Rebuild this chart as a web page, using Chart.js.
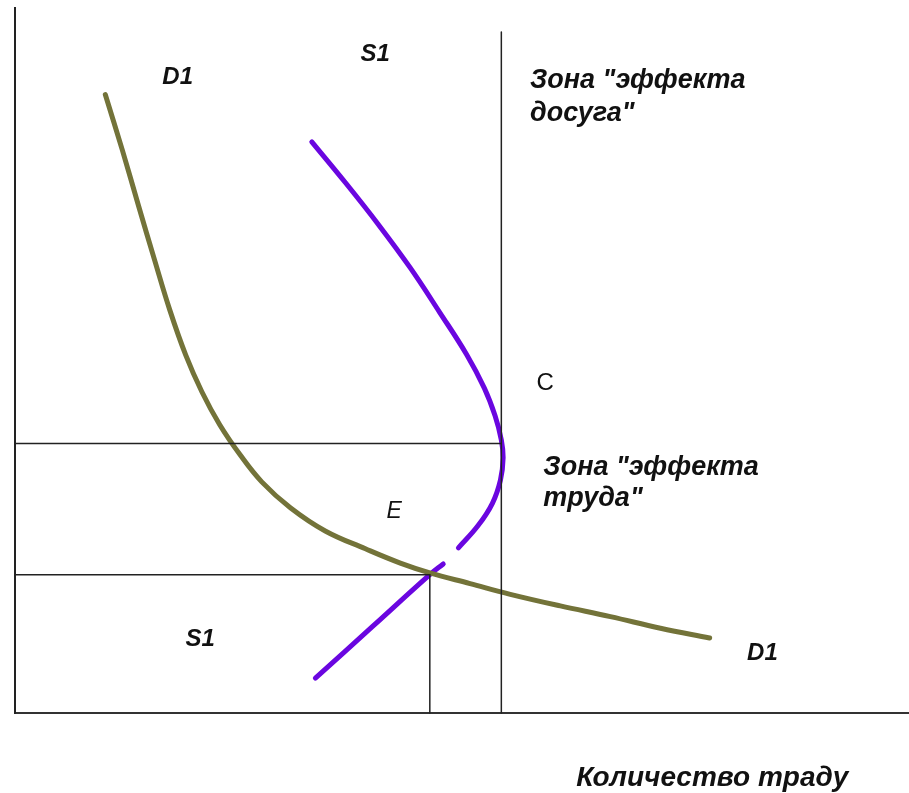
<!DOCTYPE html>
<html lang="ru">
<head>
<meta charset="utf-8">
<script src="https://cdn.jsdelivr.net/npm/chart.js@4.4.1/dist/chart.umd.min.js"></script>
<style>
  html, body { margin: 0; padding: 0; background: #fff; }
  .chart-box { width: 909px; height: 793px; }
</style>
</head>
<body>
<div class="chart-box"><canvas id="labourChart"></canvas></div>
<script>
// labour quantity (x) and wage (y)
const demandQty  = [10.1, 12.0, 13.8, 15.6, 17.3, 19.1, 20.9, 22.9, 25.2, 27.6, 30.8, 34.7, 39.2, 43.1, 46.4, 50.9, 55.4, 61.0, 66.6, 72.2, 77.7];
const demandWage = [69.3, 63.1, 56.9, 50.8, 45.2, 40.1, 36.0, 32.3, 28.9, 25.9, 23.0, 20.4, 18.4, 16.8, 15.7, 14.5, 13.3, 12.0, 10.8, 9.5, 8.4];

// backward-bending supply, null = the break in the pen line
const supplyQty  = [33.2, 36.9, 40.6, 44.2, 47.5, 50.5, 52.5, 53.7, 54.4, 54.6, 54.3, 53.4, 51.8, 49.6, 48.7, 47.9, 46.4, 40.0, 33.6];
const supplyWage = [64.0, 59.5, 54.8, 49.9, 44.9, 40.2, 36.4, 33.3, 30.6, 28.6, 26.1, 23.5, 21.0, 18.5, null, 16.7, 15.5, 9.7, 3.9];

const pointE = [46.4, 15.5];   // equilibrium
const pointC = [54.4, 30.2];   // turning point of supply
const cLineTop = 76.3;

const toPoints = (xs, ys) => xs.map((x, i) => ({ x: x, y: ys[i] }));

const penLine = (data, color, width, extra) => Object.assign({
  data: data,
  showLine: true,
  borderColor: color,
  borderWidth: width,
  tension: 0,
  pointRadius: 0,
  clip: false,
  borderCapStyle: 'round'
}, extra || {});

// text on the drawing, placed in chart units
const labels = [
  { text: 'D1', x: 18.2, y: 71.2, font: 'italic bold 24px "Liberation Sans"', align: 'center', base: 'middle' },
  { text: 'S1', x: 40.3, y: 73.8, font: 'italic bold 24px "Liberation Sans"', align: 'center', base: 'middle' },
  { text: 'Зона "эффекта', x: 57.6, y: 70.0, font: 'italic bold 27px "Liberation Sans"', align: 'left', base: 'alphabetic' },
  { text: 'досуга"', x: 57.6, y: 66.3, font: 'italic bold 27px "Liberation Sans"', align: 'left', base: 'alphabetic' },
  { text: 'C', x: 59.3, y: 36.9, font: '24px "Liberation Sans"', align: 'center', base: 'middle' },
  { text: 'Зона "эффекта', x: 59.1, y: 26.7, font: 'italic bold 27px "Liberation Sans"', align: 'left', base: 'alphabetic' },
  { text: 'труда"', x: 59.1, y: 23.2, font: 'italic bold 27px "Liberation Sans"', align: 'left', base: 'alphabetic' },
  { text: 'E', x: 42.4, y: 22.6, font: 'italic 23px "Liberation Sans"', align: 'center', base: 'middle' },
  { text: 'S1', x: 20.7, y: 8.2, font: 'italic bold 24px "Liberation Sans"', align: 'center', base: 'middle' },
  { text: 'D1', x: 83.6, y: 6.7, font: 'italic bold 24px "Liberation Sans"', align: 'center', base: 'middle' },
  { text: 'Количество траду', x: 78.0, y: -7.3, font: 'italic bold 28px "Liberation Sans"', align: 'center', base: 'middle' }
];

const textPlugin = {
  id: 'sketchText',
  afterDraw(chart) {
    const ctx = chart.ctx;
    const sx = chart.scales.x, sy = chart.scales.y;
    ctx.save();
    ctx.fillStyle = '#111';
    labels.forEach(l => {
      ctx.font = l.font;
      ctx.textAlign = l.align;
      ctx.textBaseline = l.base;
      ctx.fillText(l.text, sx.getPixelForValue(l.x), sy.getPixelForValue(l.y));
    });
    ctx.restore();
  }
};

const lineColor = '#222';

new Chart(document.getElementById('labourChart'), {
  type: 'scatter',
  data: {
    datasets: [
      penLine([{ x: 0, y: pointC[1] }, { x: pointC[0], y: pointC[1] }], lineColor, 1.5),
      penLine([{ x: pointC[0], y: cLineTop }, { x: pointC[0], y: 0 }], lineColor, 1.5),
      penLine([{ x: 0, y: pointE[1] }, { x: pointE[0], y: pointE[1] }], lineColor, 1.5),
      penLine([{ x: pointE[0], y: pointE[1] }, { x: pointE[0], y: 0 }], lineColor, 1.5),
      penLine(toPoints(demandQty, demandWage), '#737339', 5, { tension: 0.4 }),
      penLine(toPoints(supplyQty, supplyWage), '#6a06e0', 5, { tension: 0.4 })
    ]
  },
  options: {
    responsive: true,
    maintainAspectRatio: false,
    animation: false,
    layout: { padding: { left: 15, right: 0, top: 8, bottom: 80 } },
    plugins: {
      legend: { display: false },
      tooltip: { enabled: false }
    },
    scales: {
      x: {
        type: 'linear', min: 0, max: 100,
        ticks: { display: false },
        grid: { display: false, drawTicks: false },
        border: { display: true, color: '#333', width: 2 }
      },
      y: {
        type: 'linear', min: 0, max: 79,
        ticks: { display: false },
        grid: { display: false, drawTicks: false },
        border: { display: true, color: '#222', width: 2 }
      }
    }
  },
  plugins: [textPlugin]
});
</script>
</body>
</html>
